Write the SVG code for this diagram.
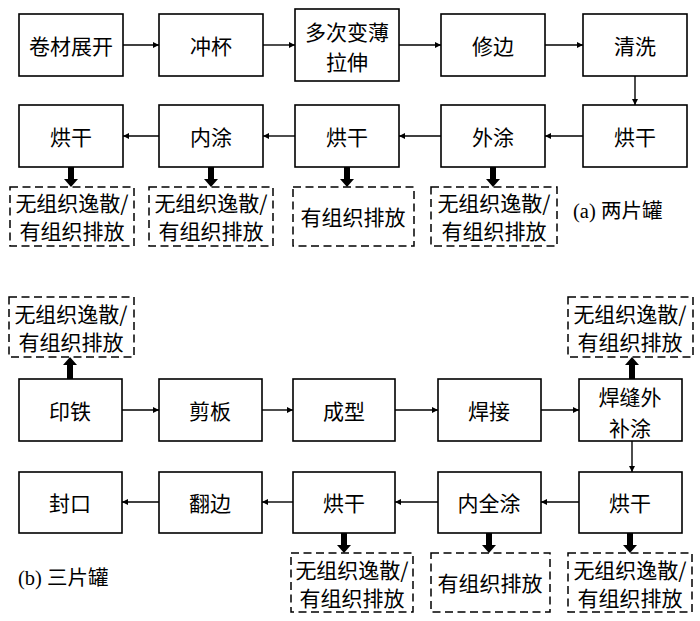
<svg xmlns="http://www.w3.org/2000/svg" width="700" height="621" viewBox="0 0 700 621">
<style>
.box{fill:#fff;stroke:#000;stroke-width:1.6}
.dash{fill:#fff;stroke:#000;stroke-width:1.5;stroke-dasharray:8 4.5}
.t{font-family:"Noto Sans CJK SC","Noto Sans",sans-serif;font-size:21px;fill:#000;text-anchor:middle;dominant-baseline:central}
.lab{font-family:"Liberation Serif","Noto Sans CJK SC",serif;font-size:20.5px;fill:#000;dominant-baseline:central}
.thin{stroke:#000;stroke-width:1.4;fill:none;marker-end:url(#ah)}
.thick{fill:#000}
</style>
<defs>
<marker id="ah" viewBox="0 0 10 10" refX="10" refY="5" markerWidth="6" markerHeight="6" markerUnits="userSpaceOnUse" orient="auto">
<path d="M0,0 L10,5 L0,10 z" fill="#000"/>
</marker>
</defs>
<rect width="700" height="621" fill="#fff"/>
<g id="connectors">
<line class="thin" x1="123" y1="45" x2="159" y2="45"/>
<line class="thin" x1="263" y1="45" x2="295" y2="45"/>
<line class="thin" x1="399" y1="45" x2="441" y2="45"/>
<line class="thin" x1="545" y1="45" x2="583" y2="45"/>
<line class="thin" x1="635" y1="76" x2="635" y2="105"/>
<line class="thin" x1="583" y1="136" x2="545" y2="136"/>
<line class="thin" x1="441" y1="136" x2="399" y2="136"/>
<line class="thin" x1="295" y1="136" x2="263" y2="136"/>
<line class="thin" x1="159" y1="136" x2="123" y2="136"/>
<path class="thick" d="M68,167 H74 V179 H78 L71,187 L64,179 H68 Z"/>
<path class="thick" d="M208,167 H214 V179 H218 L211,187 L204,179 H208 Z"/>
<path class="thick" d="M344,167 H350 V179 H354 L347,187 L340,179 H344 Z"/>
<path class="thick" d="M490,167 H496 V179 H500 L493,187 L486,179 H490 Z"/>
<line class="thin" x1="122" y1="410" x2="159" y2="410"/>
<line class="thin" x1="262" y1="410" x2="293" y2="410"/>
<line class="thin" x1="395" y1="410" x2="438" y2="410"/>
<line class="thin" x1="541" y1="410" x2="579" y2="410"/>
<line class="thin" x1="632" y1="441" x2="632" y2="472"/>
<line class="thin" x1="579" y1="502" x2="541" y2="502"/>
<line class="thin" x1="438" y1="502" x2="395" y2="502"/>
<line class="thin" x1="293" y1="502" x2="262" y2="502"/>
<line class="thin" x1="159" y1="502" x2="122" y2="502"/>
<path class="thick" d="M67,379 H73 V365 H77 L70,357 L63,365 H67 Z"/>
<path class="thick" d="M629,379 H635 V365 H639 L632,357 L625,365 H629 Z"/>
<path class="thick" d="M341,533 H347 V545 H351 L344,553 L337,545 H341 Z"/>
<path class="thick" d="M486,533 H492 V545 H496 L489,553 L482,545 H486 Z"/>
<path class="thick" d="M627,533 H633 V545 H637 L630,553 L623,545 H627 Z"/>
</g>
<g id="a1"><rect class="box" x="19" y="14" width="104" height="62"/><text class="t" x="71" y="45">卷材展开</text></g>
<g id="a2"><rect class="box" x="159" y="14" width="104" height="62"/><text class="t" x="211" y="45">冲杯</text></g>
<g id="a3"><rect class="box" x="295" y="9" width="104" height="72"/><text class="t" x="347" y="31">多次变薄</text><text class="t" x="347" y="61">拉伸</text></g>
<g id="a4"><rect class="box" x="441" y="14" width="104" height="62"/><text class="t" x="493" y="45">修边</text></g>
<g id="a5"><rect class="box" x="583" y="14" width="104" height="62"/><text class="t" x="635" y="45">清洗</text></g>
<g id="a6"><rect class="box" x="583" y="105" width="104" height="62"/><text class="t" x="635" y="136">烘干</text></g>
<g id="a7"><rect class="box" x="441" y="105" width="104" height="62"/><text class="t" x="493" y="136">外涂</text></g>
<g id="a8"><rect class="box" x="295" y="105" width="104" height="62"/><text class="t" x="347" y="136">烘干</text></g>
<g id="a9"><rect class="box" x="159" y="105" width="104" height="62"/><text class="t" x="211" y="136">内涂</text></g>
<g id="a10"><rect class="box" x="19" y="105" width="104" height="62"/><text class="t" x="71" y="136">烘干</text></g>
<g id="ae1"><rect class="dash" x="10" y="187" width="124" height="59"/><text class="t" x="72" y="202">无组织逸散/</text><text class="t" x="72" y="230">有组织排放</text></g>
<g id="ae2"><rect class="dash" x="149" y="187" width="124" height="59"/><text class="t" x="211" y="202">无组织逸散/</text><text class="t" x="211" y="230">有组织排放</text></g>
<g id="ae3"><rect class="dash" x="293" y="187" width="121" height="59"/><text class="t" x="353" y="216">有组织排放</text></g>
<g id="ae4"><rect class="dash" x="431" y="187" width="126" height="59"/><text class="t" x="494" y="202">无组织逸散/</text><text class="t" x="494" y="230">有组织排放</text></g>
<text class="lab" x="573" y="211">(a) 两片罐</text>
<g id="b1"><rect class="box" x="19" y="379" width="103" height="62"/><text class="t" x="70" y="410">印铁</text></g>
<g id="b2"><rect class="box" x="159" y="379" width="103" height="62"/><text class="t" x="210" y="410">剪板</text></g>
<g id="b3"><rect class="box" x="293" y="379" width="102" height="62"/><text class="t" x="344" y="410">成型</text></g>
<g id="b4"><rect class="box" x="438" y="379" width="103" height="62"/><text class="t" x="489" y="410">焊接</text></g>
<g id="b5"><rect class="box" x="579" y="379" width="103" height="62"/><text class="t" x="630" y="396">焊缝外</text><text class="t" x="630" y="427">补涂</text></g>
<g id="b6"><rect class="box" x="579" y="472" width="103" height="61"/><text class="t" x="630" y="502">烘干</text></g>
<g id="b7"><rect class="box" x="438" y="472" width="103" height="61"/><text class="t" x="489" y="502">内全涂</text></g>
<g id="b8"><rect class="box" x="293" y="472" width="102" height="61"/><text class="t" x="344" y="502">烘干</text></g>
<g id="b9"><rect class="box" x="159" y="472" width="103" height="61"/><text class="t" x="210" y="502">翻边</text></g>
<g id="b10"><rect class="box" x="19" y="472" width="103" height="61"/><text class="t" x="70" y="502">封口</text></g>
<g id="be1"><rect class="dash" x="9" y="297" width="125" height="60"/><text class="t" x="71" y="313">无组织逸散/</text><text class="t" x="71" y="341">有组织排放</text></g>
<g id="be2"><rect class="dash" x="568" y="297" width="125" height="60"/><text class="t" x="630" y="313">无组织逸散/</text><text class="t" x="630" y="341">有组织排放</text></g>
<g id="be3"><rect class="dash" x="291" y="553" width="122" height="59"/><text class="t" x="352" y="569">无组织逸散/</text><text class="t" x="352" y="597">有组织排放</text></g>
<g id="be4"><rect class="dash" x="431" y="553" width="119" height="59"/><text class="t" x="490" y="582">有组织排放</text></g>
<g id="be5"><rect class="dash" x="568" y="553" width="124" height="59"/><text class="t" x="630" y="569">无组织逸散/</text><text class="t" x="630" y="597">有组织排放</text></g>
<text class="lab" x="18" y="578">(b) 三片罐</text>
</svg>
